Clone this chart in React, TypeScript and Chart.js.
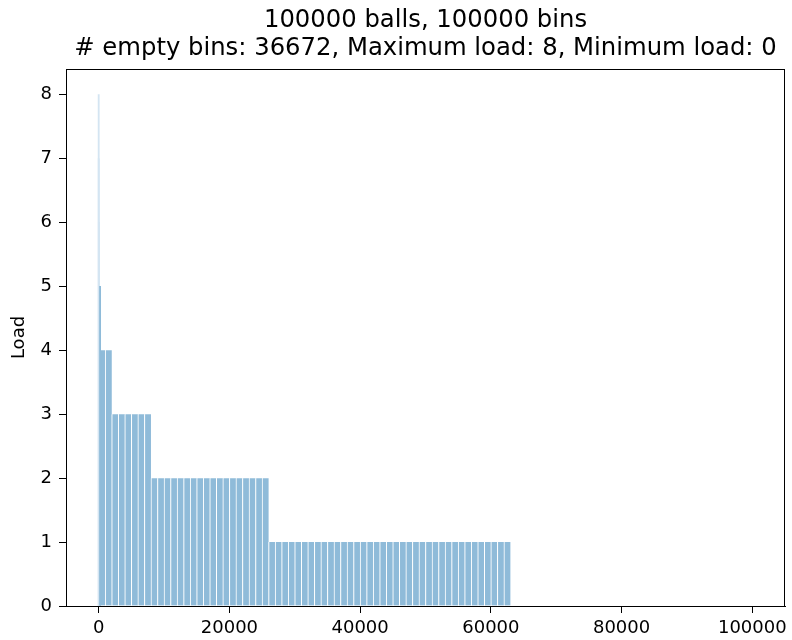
import React, { useEffect, useRef } from "react";
import { Chart, registerables } from "chart.js";

Chart.register(...registerables);

// ---- data ----
const titleLines = [
  "100000 balls, 100000 bins",
  "# empty bins: 36672, Maximum load: 8, Minimum load: 0",
];
const yAxisLabel = "Load";
const totalBins = 100000;
// bins sorted by load (descending): how many bins carry each load level
const loadLevels = [8, 7, 6, 5, 4, 3, 2, 1, 0];
const binCounts = [1, 6, 52, 310, 1560, 6120, 18209, 37070, 36672];
const xTickValues = [0, 20000, 40000, 60000, 80000, 100000];
const yTickValues = [0, 1, 2, 3, 4, 5, 6, 7, 8];
const xRange = [-5000, 105000];
const yRange = [0, 8.4];
// bins drawn per visible bar (the stripes of the reference)
const groupSize = 1000;

type Seg = { level: number; start: number; end: number };

function buildSegments(): Seg[] {
  let s = 0;
  return loadLevels.map((level, i) => {
    const seg = { level, start: s, end: s + binCounts[i] };
    s += binCounts[i];
    return seg;
  });
}

function loadAt(segs: Seg[], idx: number): number {
  for (const sg of segs) if (idx >= sg.start && idx < sg.end) return sg.level;
  return 0;
}

export default function App() {
  const ref = useRef<HTMLCanvasElement | null>(null);

  useEffect(() => {
    const canvas = ref.current;
    if (!canvas) return;
    const segs = buildSegments();

    const groupBars: { x: number; y: number }[] = [];
    for (let g = 0; g < totalBins / groupSize; g++) {
      const mid = g * groupSize + groupSize / 2;
      const lv = loadAt(segs, mid);
      if (lv > 0) groupBars.push({ x: mid, y: lv });
    }

    const spikeSegs = segs.filter((sg) => {
      if (sg.level <= 0) return false;
      if (sg.end - sg.start >= groupSize / 2) return false;
      const g = Math.floor(sg.start / groupSize);
      return sg.level > loadAt(segs, g * groupSize + groupSize / 2);
    });
    const spikeBars = spikeSegs.map((sg) => ({ x: (sg.start + sg.end) / 2, y: sg.level }));
    const spikeColors = spikeSegs.map((sg) => (sg.end - sg.start >= 100 ? "#8fbbd9" : "#d4e5f2"));

    const frame = {
      id: "frame",
      afterDraw(chart: any) {
        const { ctx, chartArea } = chart;
        ctx.save();
        ctx.strokeStyle = "#000";
        ctx.lineWidth = 1;
        ctx.strokeRect(
          Math.round(chartArea.left) + 0.5,
          Math.round(chartArea.top) + 0.5,
          Math.round(chartArea.right) - Math.round(chartArea.left) - 1,
          Math.round(chartArea.bottom) - Math.round(chartArea.top)
        );
        ctx.restore();
      },
    };

    const chart = new Chart(canvas, {
      type: "bar",
      data: {
        datasets: [
          {
            label: "spikes",
            data: spikeBars,
            xAxisID: "xs",
            yAxisID: "y",
            backgroundColor: spikeColors,
            borderWidth: 0,
            barThickness: 1.2,
            grouped: false,
            order: 1,
          } as any,
          {
            label: "load",
            data: groupBars,
            xAxisID: "x",
            yAxisID: "y",
            backgroundColor: "#8fbbd9",
            borderColor: "#ffffff",
            borderWidth: { left: 1, top: 0, right: 0, bottom: 0 },
            barPercentage: 1,
            categoryPercentage: 1,
            grouped: false,
            order: 2,
          } as any,
        ],
      },
      plugins: [frame],
      options: {
        animation: false,
        responsive: false,
        devicePixelRatio: 1,
        datasets: { bar: { barPercentage: 1, categoryPercentage: 1, grouped: false } },
        layout: { padding: { left: 0, right: 7, top: 0, bottom: 0 } },
        plugins: {
          legend: { display: false },
          tooltip: { enabled: false },
          title: {
            display: true,
            fullSize: false,
            text: titleLines,
            color: "#000",
            font: { family: "DejaVu Sans", size: 24.3, weight: "normal", lineHeight: "28px" } as any,
            padding: { top: 7, bottom: 6 },
          },
        },
        scales: {
          x: {
            type: "linear",
            position: "bottom",
            offset: false,
            min: xRange[0],
            max: xRange[1],
            afterBuildTicks: (s: any) => {
              s.ticks = xTickValues.map((v) => ({ value: v }));
            },
            afterFit: (s: any) => {
              s.height = 34;
              s.paddingLeft = 0;
              s.paddingRight = 0;
            },
            ticks: {
              color: "#000",
              font: { family: "DejaVu Sans", size: 18 },
              padding: 5,
              maxRotation: 0,
              autoSkip: false,
              callback: (v: any) => String(v),
            },
            grid: {
              offset: false,
              drawOnChartArea: false,
              drawTicks: true,
              tickLength: 7,
              color: "#000",
              tickColor: "#000",
            },
            border: { display: true, color: "#000", width: 1 },
          },
          xs: {
            type: "linear",
            display: false,
            offset: false,
            grid: { offset: false },
            min: xRange[0],
            max: xRange[1],
          },
          y: {
            type: "linear",
            position: "left",
            min: yRange[0],
            max: yRange[1],
            afterBuildTicks: (s: any) => {
              s.ticks = yTickValues.map((v) => ({ value: v }));
            },
            afterFit: (s: any) => {
              s.width = 66;
              s.paddingTop = 0;
              s.paddingBottom = 0;
            },
            ticks: {
              color: "#000",
              font: { family: "DejaVu Sans", size: 18 },
              padding: 7,
              autoSkip: false,
              callback: (v: any) => String(v),
            },
            title: {
              display: true,
              text: yAxisLabel,
              color: "#000",
              font: { family: "DejaVu Sans", size: 18 },
              padding: { top: 9, bottom: 0 },
            },
            grid: { drawOnChartArea: false, drawTicks: true, tickLength: 7, color: "#000", tickColor: "#000" },
            border: { display: true, color: "#000", width: 1 },
          },
        },
      } as any,
    });

    return () => chart.destroy();
  }, []);

  return (
    <div style={{ position: "absolute", left: 0, top: 0, width: 792, height: 640, background: "#fff" }}>
      <canvas ref={ref} width={792} height={640} style={{ display: "block", width: 792, height: 640 }} />
    </div>
  );
}
